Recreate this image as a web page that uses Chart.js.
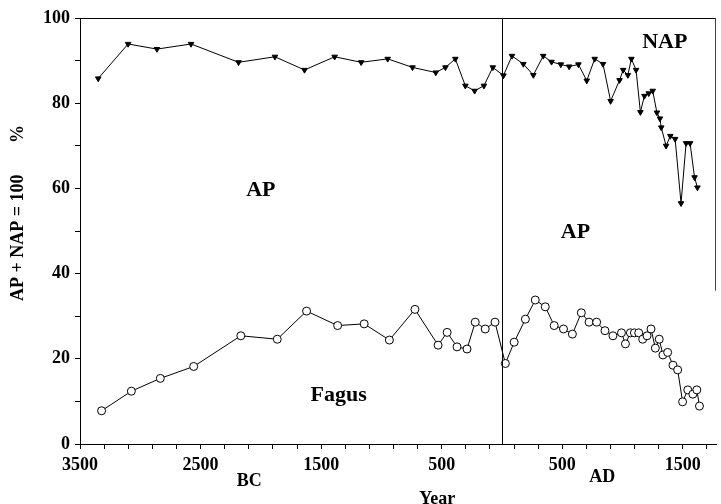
<!DOCTYPE html>
<html>
<head>
<meta charset="utf-8">
<script src="https://cdn.jsdelivr.net/npm/chart.js@4.4.1/dist/chart.umd.min.js"></script>
<style>
  html, body { margin: 0; padding: 0; background: #fff; }
  #wrap { width: 721px; height: 504px; }
</style>
</head>
<body>
<div id="wrap"><canvas id="c" width="721" height="504"></canvas></div>
<script>
// ---- data (years: negative = BC, positive = AD) ----
const apYears = [-3349,-3101,-2862,-2579,-2185,-1883,-1638,-1388,-1168,-948,-742,-549,-469,-387,-304,-227,-150,-76,12,83,177,260,342,411,488,557,634,703,769,838,901,975,1005,1044,1073,1112,1148,1181,1217,1250,1285,1310,1321,1361,1396,1436,1485,1527,1560,1597,1621];
const apValues = [85.8,93.9,92.7,93.9,89.6,90.9,87.8,90.9,89.6,90.4,88.4,87.2,88.4,90.4,84.1,82.9,84.1,88.4,86.5,91.1,89.2,86.6,91.1,89.7,89.1,88.6,89.1,85.3,90.4,89.2,80.5,85.4,87.8,86.6,90.4,87.8,77.9,81.7,82.3,82.9,77.8,76.4,74.3,70.0,72.3,71.6,56.5,70.6,70.6,62.6,60.2];

const fagusYears = [-3321,-3074,-2834,-2557,-2166,-1864,-1621,-1363,-1143,-934,-722,-530,-455,-373,-290,-222,-139,-58,28,101,194,276,359,433,510,584,658,722,785,854,920,991,1024,1065,1098,1134,1167,1203,1236,1272,1304,1335,1374,1418,1457,1498,1541,1583,1616,1638];
const fagusValues = [7.8,12.4,15.4,18.2,25.4,24.6,31.2,27.8,28.2,24.4,31.6,23.2,26.2,22.8,22.3,28.6,27.0,28.6,18.9,23.9,29.3,33.8,32.2,27.8,27.0,25.8,30.8,28.6,28.6,26.6,25.4,26.1,23.5,26.1,26.1,26.1,24.6,25.4,27.0,22.5,24.6,20.9,21.5,18.5,17.4,9.9,12.7,11.7,12.7,8.9];

const xTickPositions = [-3500,-2500,-1500,-500,500,1500];
const xTickLabels = ['3500','2500','1500','500','500','1500'];
const yTickPositions = [0,20,40,60,80,100];
const yTickLabels = ['0','20','40','60','80','100'];
const yAxisTitle = 'AP + NAP = 100       %';
const xAxisTitle = 'Year';
const eraLabels = ['BC','AD'];
const regionLabels = ['AP','AP','NAP','Fagus'];

// ---- build chart ----
const SERIF = '"Liberation Serif", "Times New Roman", serif';
const tickFont = { family: SERIF, size: 18, weight: 'bold' };

const apData = apYears.map((x, i) => ({ x, y: apValues[i] }));
const fagusData = fagusYears.map((x, i) => ({ x, y: fagusValues[i] }));

const xMinor = [];
for (let v = -3500; v <= 1700; v += 200) xMinor.push(v);
const yMinor = [];
for (let v = 0; v <= 100; v += 10) yMinor.push(v);

const decorPlugin = {
  id: 'decor',
  afterDatasetsDraw(chart) {
    const { ctx, chartArea: a, scales: { x, y } } = chart;
    ctx.save();
    ctx.strokeStyle = '#000';
    ctx.lineWidth = 1;
    // top frame
    ctx.beginPath();
    ctx.moveTo(a.left, Math.round(a.top) + 0.5);
    ctx.lineTo(a.right, Math.round(a.top) + 0.5);
    ctx.stroke();
    // right frame (partly faded in the scan)
    ctx.strokeStyle = '#444';
    ctx.beginPath();
    ctx.moveTo(Math.round(a.right) - 0.5, a.top);
    ctx.lineTo(Math.round(a.right) - 0.5, y.getPixelForValue(36));
    ctx.stroke();
    // BC / AD divider at year 0
    ctx.strokeStyle = '#000';
    const x0 = Math.round(x.getPixelForValue(0)) + 0.5;
    ctx.beginPath();
    ctx.moveTo(x0, a.top);
    ctx.lineTo(x0, a.bottom);
    ctx.stroke();

    ctx.fillStyle = '#000';
    ctx.textAlign = 'center';
    ctx.textBaseline = 'middle';
    ctx.font = 'bold 22px ' + SERIF;
    ctx.fillText(regionLabels[0], x.getPixelForValue(-2000), y.getPixelForValue(59.6));
    ctx.fillText(regionLabels[1], x.getPixelForValue(609), y.getPixelForValue(49.8));
    ctx.fillText(regionLabels[2], x.getPixelForValue(1350), y.getPixelForValue(94.2));
    ctx.fillText(regionLabels[3], x.getPixelForValue(-1355), y.getPixelForValue(11.5));

    ctx.font = 'bold 18px ' + SERIF;
    ctx.fillText(eraLabels[0], x.getPixelForValue(-2097), a.bottom + 37);
    ctx.fillText(eraLabels[1], x.getPixelForValue(832), a.bottom + 33);
    ctx.fillText(xAxisTitle, x.getPixelForValue(-538), a.bottom + 55);

    // y axis title (rotated)
    ctx.save();
    ctx.translate(18, (a.top + a.bottom) / 2 - 18);
    ctx.rotate(-Math.PI / 2);
    ctx.font = 'bold 18px ' + SERIF;
    ctx.fillText(yAxisTitle, 0, 0);
    ctx.restore();
    ctx.restore();
  }
};

new Chart(document.getElementById('c'), {
  type: 'line',
  data: {
    datasets: [
      {
        label: 'AP',
        data: apData,
        borderColor: '#000',
        borderWidth: 1,
        backgroundColor: '#000',
        pointStyle: 'triangle',
        pointRotation: 180,
        pointRadius: 3.2,
        pointBorderWidth: 1,
        pointBackgroundColor: '#000',
        pointBorderColor: '#000',
        tension: 0,
        fill: false
      },
      {
        label: 'Fagus',
        data: fagusData,
        borderColor: '#000',
        borderWidth: 1,
        pointStyle: 'circle',
        pointRadius: 4,
        pointBorderWidth: 1,
        pointBackgroundColor: '#fff',
        pointBorderColor: '#000',
        tension: 0,
        fill: false
      }
    ]
  },
  options: {
    responsive: false,
    animation: false,
    devicePixelRatio: 1,
    layout: { padding: { left: 8, right: 2, top: 18, bottom: 0 } },
    plugins: { legend: { display: false }, tooltip: { enabled: false } },
    scales: {
      x: {
        type: 'linear',
        min: -3500,
        max: 1775,
        afterBuildTicks: s => { s.ticks = xMinor.map(v => ({ value: v })); },
        afterFit: s => { s.height = 60; },
        ticks: {
          autoSkip: false,
          maxRotation: 0,
          padding: 6,
          color: '#000',
          font: tickFont,
          callback: v => { const i = xTickPositions.indexOf(v); return i >= 0 ? xTickLabels[i] : ''; }
        },
        grid: { drawOnChartArea: false, drawTicks: true, tickLength: 5, color: '#000' },
        border: { display: true, color: '#000', width: 1 }
      },
      y: {
        type: 'linear',
        min: 0,
        max: 100,
        afterBuildTicks: s => { s.ticks = yMinor.map(v => ({ value: v })); },
        afterFit: s => { s.width = 72; },
        ticks: {
          autoSkip: false,
          padding: 5,
          color: '#000',
          font: tickFont,
          callback: v => { const i = yTickPositions.indexOf(v); return i >= 0 ? yTickLabels[i] : ''; }
        },
        title: { display: false, text: yAxisTitle },
        grid: { drawOnChartArea: false, drawTicks: true, tickLength: 5, color: '#000' },
        border: { display: true, color: '#000', width: 1 }
      }
    }
  },
  plugins: [decorPlugin]
});
</script>
</body>
</html>
